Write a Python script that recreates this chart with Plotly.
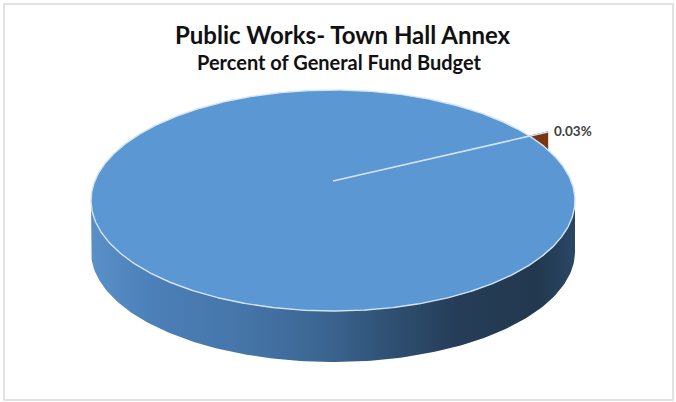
import numpy as np
import plotly.graph_objects as go

# ---- data -------------------------------------------------------------
categories = ["Public Works- Town Hall Annex", "All Other General Fund"]
percent_of_budget = [0.03, 99.97]
slice_explode = [0.10, 0.0]          # fraction of radius each slice is pulled out
slice_top_colors = ["#c55a11", "#5b97d3"]
slice_face_colors = ["#7a3610", "#3d6895"]

title_text = "Public Works- Town Hall Annex"
subtitle_text = "Percent of General Fund Budget"

# ---- 3-D pie geometry (pixel space, perspective view) -----------------
W, H = 676, 402
CX, CY = 333.0, 181.0        # projected pie centre
KX, KY = 238.2, 107.06       # horizontal / vertical radius scale
PERSP = 0.1765               # perspective strength (far side shrinks)
DEPTH = 51.0                 # thickness of the pie, px
FIRST_ANGLE = 63.0           # first slice angle, degrees clockwise from 12 o'clock


def project(X, Y, drop=0.0):
    """Plane coords (X right, Y away from viewer) -> screen px."""
    X = np.asarray(X, float)
    Y = np.asarray(Y, float)
    w = 1.0 + PERSP * Y
    return CX + KX * X / w, CY - KY * Y / w + drop


total = float(sum(percent_of_budget))
bounds = FIRST_ANGLE + 360.0 * np.concatenate([[0.0], np.cumsum(percent_of_budget) / total])

fig = go.Figure()


def add_poly(xs, ys, **kw):
    fig.add_trace(go.Scatter(x=list(xs), y=list(ys), mode="lines", fill="toself",
                             hoverinfo="skip", showlegend=False, **kw))


# slice offsets from explosion
offsets = []
for i in range(len(percent_of_budget)):
    mid = np.radians((bounds[i] + bounds[i + 1]) / 2)
    offsets.append((slice_explode[i] * np.sin(mid), slice_explode[i] * np.cos(mid)))

# 1) cut faces of exploded slices (sit behind the main body)
for i in range(len(percent_of_budget)):
    if slice_explode[i] <= 0:
        continue
    ox, oy = offsets[i]
    for ang in (bounds[i], bounds[i + 1]):
        a = np.radians(ang)
        X = np.array([ox, ox + np.sin(a), ox + np.sin(a), ox])
        Y = np.array([oy, oy + np.cos(a), oy + np.cos(a), oy])
        drops = np.array([0, 0, DEPTH, DEPTH])
        px, py = project(X, Y)
        add_poly(px, py + drops, line=dict(width=0.6, color=slice_face_colors[i]),
                 fillcolor=slice_face_colors[i])

# 2) front wall of each slice (only the part facing the viewer)
vis_lo = np.degrees(np.arccos(-PERSP))          # right silhouette angle
vis_hi = 360.0 - vis_lo                         # left silhouette angle
for i in range(len(percent_of_budget)):
    ox, oy = offsets[i]
    for k in (-1, 0, 1):
        lo = max(bounds[i], vis_lo + 360 * k)
        hi = min(bounds[i + 1], vis_hi + 360 * k)
        if hi <= lo:
            continue
        t = np.radians(np.linspace(lo, hi, 160))
        px, py = project(ox + np.sin(t), oy + np.cos(t))
        xs = np.concatenate([px, px[::-1]])
        ys = np.concatenate([py, (py + DEPTH)[::-1]])
        fig.add_trace(go.Scatter(
            x=list(xs), y=list(ys), mode="lines", fill="toself",
            line=dict(width=0), hoverinfo="skip", showlegend=False,
            fillgradient=dict(type="horizontal", start=CX - KX * 1.02, stop=CX + KX * 1.02,
                              colorscale=[[0.0, "#5a90c9"], [0.12, "#4c80b8"],
                                          [0.3, "#4676aa"], [0.48, "#3c6692"],
                                          [0.62, "#2f5073"], [0.76, "#253d57"],
                                          [0.92, "#22384f"], [1.0, "#2a4866"]])))

# 3) top faces of the slices
for i in range(len(percent_of_budget)):
    ox, oy = offsets[i]
    t = np.radians(np.linspace(bounds[i], bounds[i + 1], max(3, int(bounds[i + 1] - bounds[i]) * 2)))
    X = np.concatenate([[ox], ox + np.sin(t), [ox]])
    Y = np.concatenate([[oy], oy + np.cos(t), [oy]])
    px, py = project(X, Y)
    add_poly(px, py, line=dict(width=1.4, color="#d3e4f5"), fillcolor=slice_top_colors[i])

# 4) data label for the small slice
a = np.radians(bounds[0])
lx, ly = project(offsets[0][0] + np.sin(a), offsets[0][1] + np.cos(a))
fig.add_annotation(x=float(lx) + 4, y=float(ly) - 1, text=f"{percent_of_budget[0]:.2f}%",
                   showarrow=False, xanchor="left", yanchor="middle",
                   font=dict(family="Lato", size=13.5, color="#404040", weight=700))

# titles
fig.add_annotation(x=343, y=34, text=title_text, showarrow=False,
                   xanchor="center", yanchor="middle",
                   font=dict(family="Lato", size=24, color="#111111", weight=700))
fig.add_annotation(x=339, y=62, text=subtitle_text, showarrow=False,
                   xanchor="center", yanchor="middle",
                   font=dict(family="Lato", size=20, color="#111111", weight=700))

# chart border
fig.add_shape(type="rect", x0=4, y0=4, x1=673, y1=400,
              line=dict(color="#d9d9d9", width=1.5), layer="below")

fig.update_layout(
    width=W, height=H, margin=dict(l=0, r=0, t=0, b=0),
    paper_bgcolor="white", plot_bgcolor="white",
    xaxis=dict(range=[0, W], visible=False, fixedrange=True),
    yaxis=dict(range=[H, 0], visible=False, fixedrange=True),
    showlegend=False,
)

fig.write_html("out.html")
